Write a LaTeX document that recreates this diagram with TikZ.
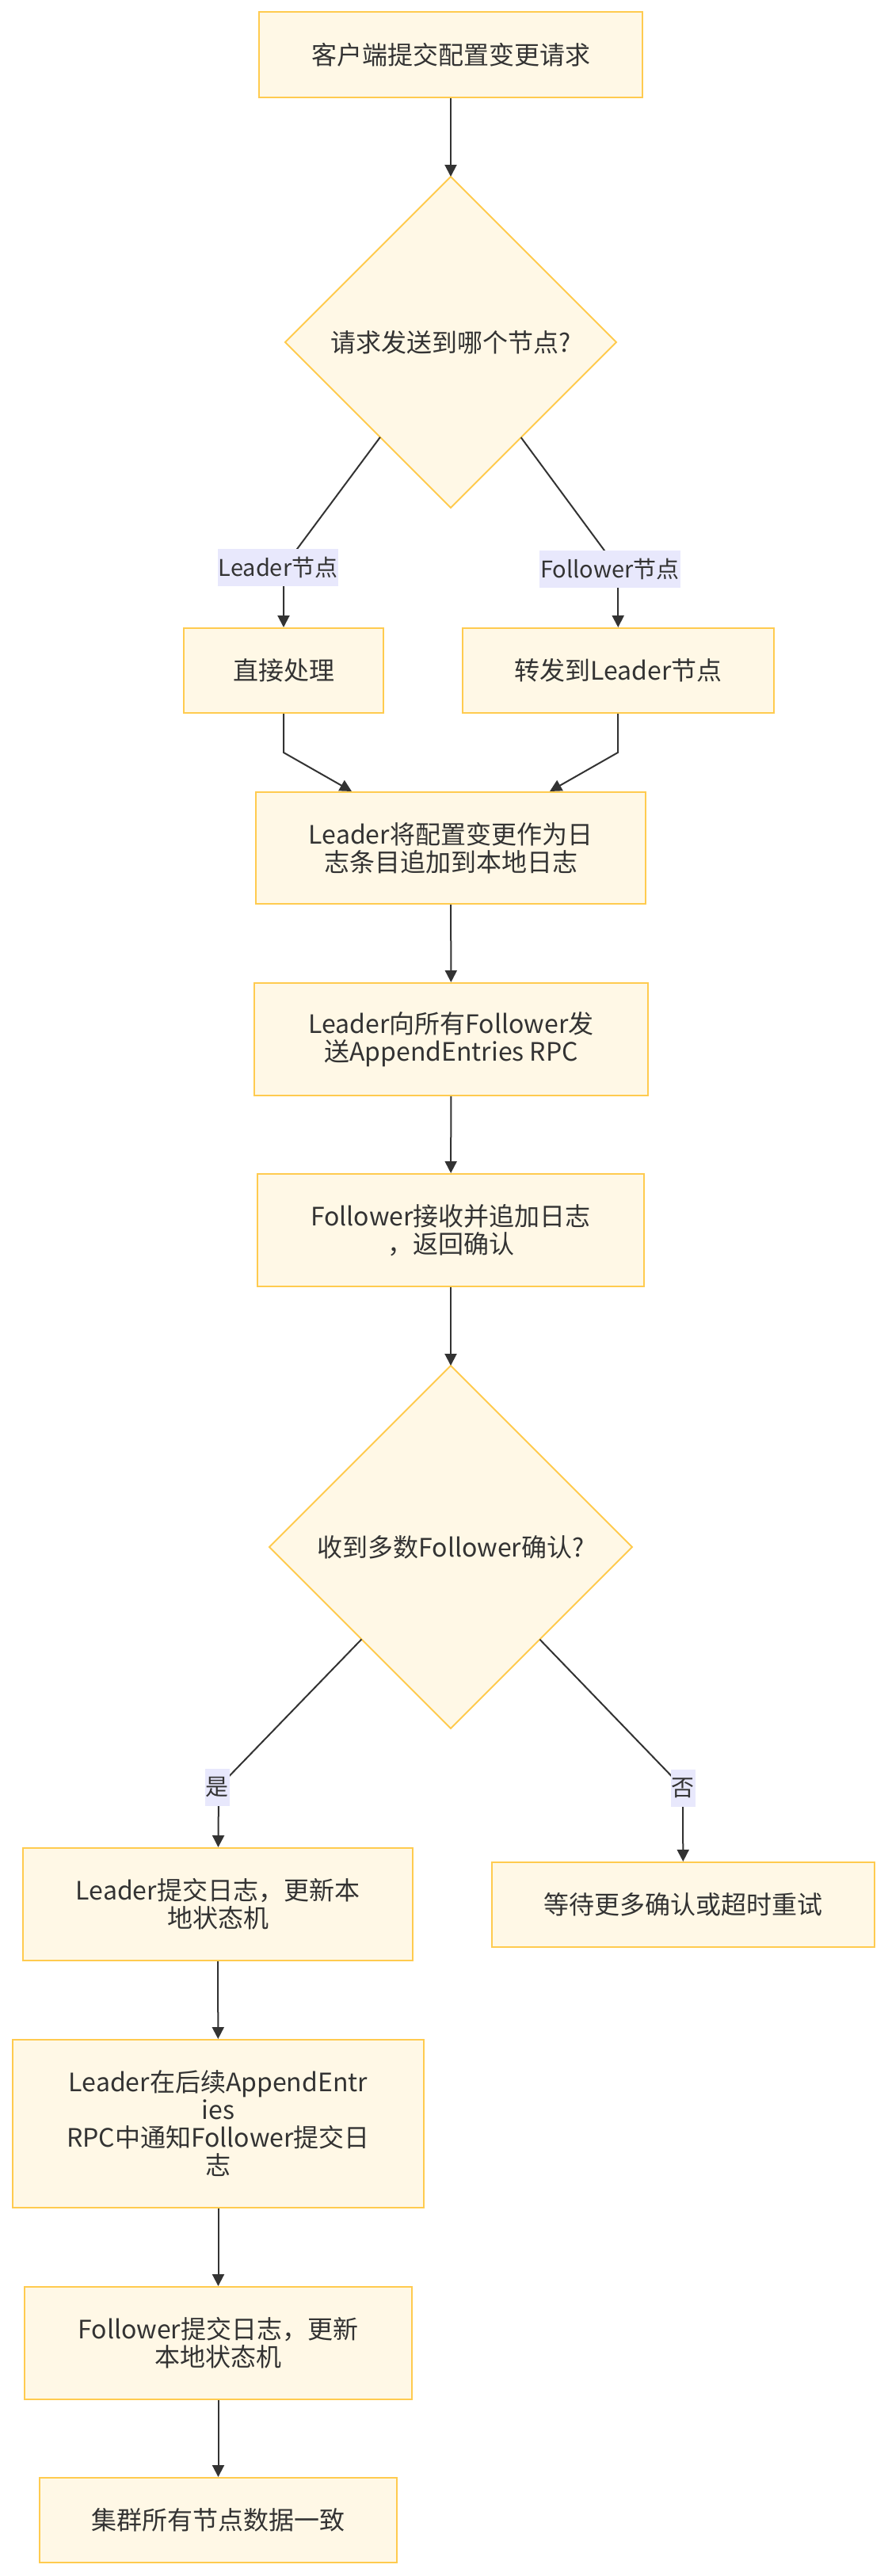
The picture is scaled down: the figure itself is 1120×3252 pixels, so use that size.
\documentclass[tikz,border=0pt]{standalone}
\usepackage{fontspec}
\setmainfont{Noto Sans CJK SC}
\usetikzlibrary{arrows.meta,shapes.geometric}
\definecolor{boxfill}{HTML}{FFF8E6}
\definecolor{boxline}{HTML}{FFCB4F}
\definecolor{lblfill}{HTML}{E8E8FC}
\definecolor{ink}{HTML}{333333}

\begin{document}
\begin{tikzpicture}[x=1pt, y=-1pt, >={Triangle[length=15pt,width=15pt]},
    font=\fontsize{32}{35}\selectfont, text=ink,
    box/.style={draw=boxline, fill=boxfill, line width=2pt, align=center,
      inner sep=0pt, minimum height=107pt},
    decision/.style={draw=boxline, fill=boxfill, line width=2pt, diamond,
      aspect=1, inner sep=0pt, outer sep=0pt, align=center},
    lbl/.style={fill=lblfill, font=\fontsize{29}{35}\selectfont, inner xsep=1pt,
      inner ysep=0pt, minimum height=47pt},
    flow/.style={->, draw=ink, line width=2pt}]
\useasboundingbox (0,0) rectangle (1120,3252);
% request and routing
\node[box, minimum width=484pt] (client) at (569,69) {客户端提交配置变更请求};
\node[decision, minimum width=418pt, minimum height=418pt] (ask) at (569,432) {请求发送到哪个节点?};
\node[box, minimum width=252pt] (direct) at (358,846.5) {直接处理};
\node[box, minimum width=393pt] (forward) at (780.5,846.5) {转发到Leader节点};
% log replication
\node[box, minimum width=492pt, minimum height=141pt] (append) at (569,1070.5) {Leader将配置变更作为日\\志条目追加到本地日志};
\node[box, minimum width=497pt, minimum height=142pt] (send) at (569.5,1312) {Leader向所有Follower发\\送AppendEntries RPC};
\node[box, minimum width=488pt, minimum height=142pt] (ack) at (569,1553) {Follower接收并追加日志\\，返回确认};
\node[decision, minimum width=458pt, minimum height=458pt] (major) at (569,1953) {收到多数Follower确认?};
% commit
\node[box, minimum width=492pt, minimum height=142pt] (lcommit) at (275,2404) {Leader提交日志，更新本\\地状态机};
\node[box, minimum width=483pt] (wait) at (862.5,2404.5) {等待更多确认或超时重试};
\node[box, minimum width=519pt, minimum height=212pt] (notify) at (275.5,2681) {Leader在后续AppendEntr\\ies\\RPC中通知Follower提交日\\志};
\node[box, minimum width=489pt, minimum height=142pt] (fcommit) at (275.5,2958) {Follower提交日志，更新\\本地状态机};
\node[box, minimum width=451pt] (done) at (275.5,3181.5) {集群所有节点数据一致};
% bends of the edges
\coordinate (kLeader) at (358,716);
\coordinate (kFollower) at (780,718);
\coordinate (jDirect) at (358,950);
\coordinate (jForward) at (780,950);
\coordinate (kYes) at (276,2256);
\coordinate (kNo) at (862,2257);
% edges
\draw[flow] (client) -- (ask);
\draw[flow] (ask) -- (kLeader) node[lbl, xshift=-7pt] (lblLeader) {Leader节点} -- (direct);
\draw[flow] (ask) -- (kFollower) node[lbl, xshift=-10pt] (lblFollower) {Follower节点} -- (forward);
\draw[flow] (direct) -- (jDirect) -- (append);
\draw[flow] (forward) -- (jForward) -- (append);
\draw[flow] (append) -- (send);
\draw[flow] (send) -- (ack);
\draw[flow] (ack) -- (major);
\draw[flow] (major) -- (kYes) node[lbl, xshift=-2pt] (lblYes) {是} -- (lcommit);
\draw[flow] (major) -- (kNo) node[lbl] (lblNo) {否} -- (wait);
\draw[flow] (lcommit) -- (notify);
\draw[flow] (notify) -- (fcommit);
\draw[flow] (fcommit) -- (done);
\end{tikzpicture}
\end{document}
